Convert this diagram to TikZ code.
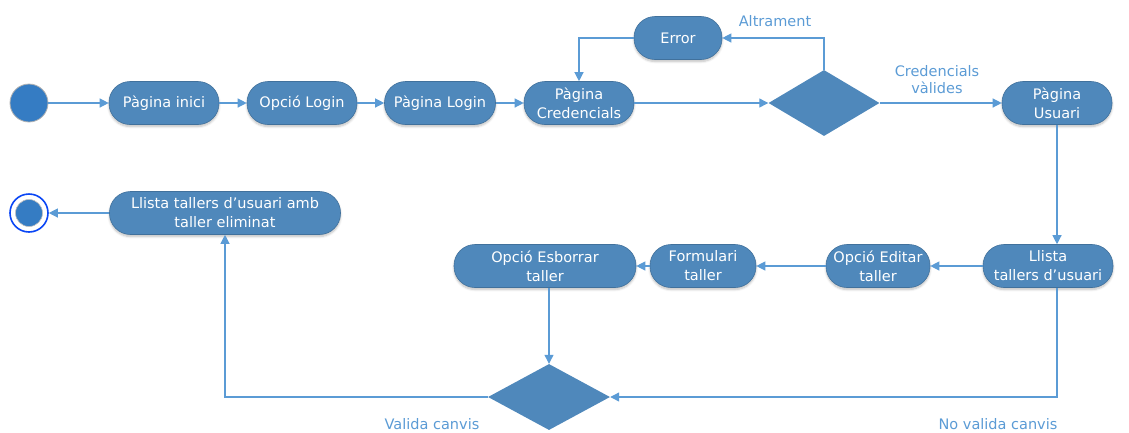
\documentclass[tikz,border=0pt]{standalone}
\usepackage{fontspec}
\setmainfont{DejaVu Sans}
\usetikzlibrary{shapes.geometric,arrows.meta,shadows.blur}
\definecolor{nodefill}{HTML}{4F88BB}
\definecolor{nodeedge}{HTML}{41719C}
\definecolor{flow}{HTML}{5B9BD5}
\definecolor{startfill}{HTML}{357CC3}
\definecolor{ringblue}{HTML}{0A46F5}
\begin{document}
\begin{tikzpicture}[x=1pt,y=-1pt,
  act/.style={draw=nodeedge, line width=0.6pt, fill=nodefill, rounded corners=21pt,
    minimum height=43pt, text=white, font=\fontsize{14.5}{19}\selectfont, align=center,
    inner sep=1pt, blur shadow={shadow xshift=0pt, shadow yshift=-2pt, shadow blur steps=6, shadow opacity=25}},
  choice/.style={diamond, fill=nodefill, draw=none, inner sep=0pt, aspect=1.7},
  flowline/.style={draw=flow, line width=1.2pt, -{Triangle[length=9pt,width=9pt]}},
  lbl/.style={text=flow, font=\fontsize{14.5}{17}\selectfont, align=center}]
\useasboundingbox (0,0) rectangle (1129,432);

% start and final states
\node[circle, fill=startfill, draw=gray!60, line width=0.8pt, minimum size=38pt, inner sep=0pt] (start) at (29,103) {};
\node[circle, draw=ringblue, line width=1.6pt, fill=white, minimum size=38pt, inner sep=0pt] (final) at (29,213) {};
\node[circle, fill=startfill, draw=gray!50, line width=0.6pt, minimum size=27pt, inner sep=0pt] (finalcore) at (29,213) {};

% top row
\node[act, minimum width=110pt] (inici) at (164,103) {Pàgina inici};
\node[act, minimum width=110pt] (oplogin) at (302,103) {Opció Login};
\node[act, minimum width=111pt] (paglogin) at (440,103) {Pàgina Login};
\node[act, minimum width=110pt] (cred) at (579,103) {Pàgina\\Credencials};
\node[act, minimum width=88pt] (error) at (678,38) {Error};
\node[choice, minimum width=111pt, minimum height=66pt] (chk) at (824,103) {};
\node[act, minimum width=110pt] (usuari) at (1057,103) {Pàgina\\Usuari};

% second row
\node[act, minimum width=130pt] (llista) at (1048,266) {Llista\\tallers d’usuari};
\node[act, minimum width=104pt] (editar) at (878,266) {Opció Editar\\taller};
\node[act, minimum width=106pt] (form) at (703,266) {Formulari\\taller};
\node[act, minimum width=182pt] (esborrar) at (545,266) {Opció Esborrar\\taller};
\node[act, minimum width=231pt] (elim) at (225,213) {Llista tallers d’usuari amb\\taller eliminat};
\node[choice, minimum width=122pt, minimum height=66pt, aspect=1.85] (canvis) at (549,397) {};

% connectors
\draw[flowline] (start) -- (inici);
\draw[flowline] (inici) -- (oplogin);
\draw[flowline] (oplogin) -- (paglogin);
\draw[flowline] (paglogin) -- (cred);
\draw[flowline] (cred) -- (chk.west);
\draw[flowline] (chk.north) |- (error.east);
\draw[flowline] (error.west) -| (cred.north);
\draw[flowline] (chk.east) -- (usuari.west);
\draw[flowline] (usuari.south) -- (usuari.south |- llista.north);
\draw[flowline] (llista) -- (editar);
\draw[flowline] (editar) -- (form);
\draw[flowline] (form) -- (esborrar);
\draw[flowline] (esborrar.south -| canvis.north) -- (canvis.north);
\draw[flowline] (usuari.south |- llista.south) |- (canvis.east);
\draw[flowline] (canvis.west) -| (elim.south);
\draw[flowline] (elim) -- (final);

% guard labels
\node[lbl] (lalt) at (775,21) {Altrament};
\node[lbl] (lval) at (937,80) {Credencials\\vàlides};
\node[lbl] (lcanvis) at (432,424) {Valida canvis};
\node[lbl] (lnocanvis) at (998,424) {No valida canvis};
\end{tikzpicture}
\end{document}
